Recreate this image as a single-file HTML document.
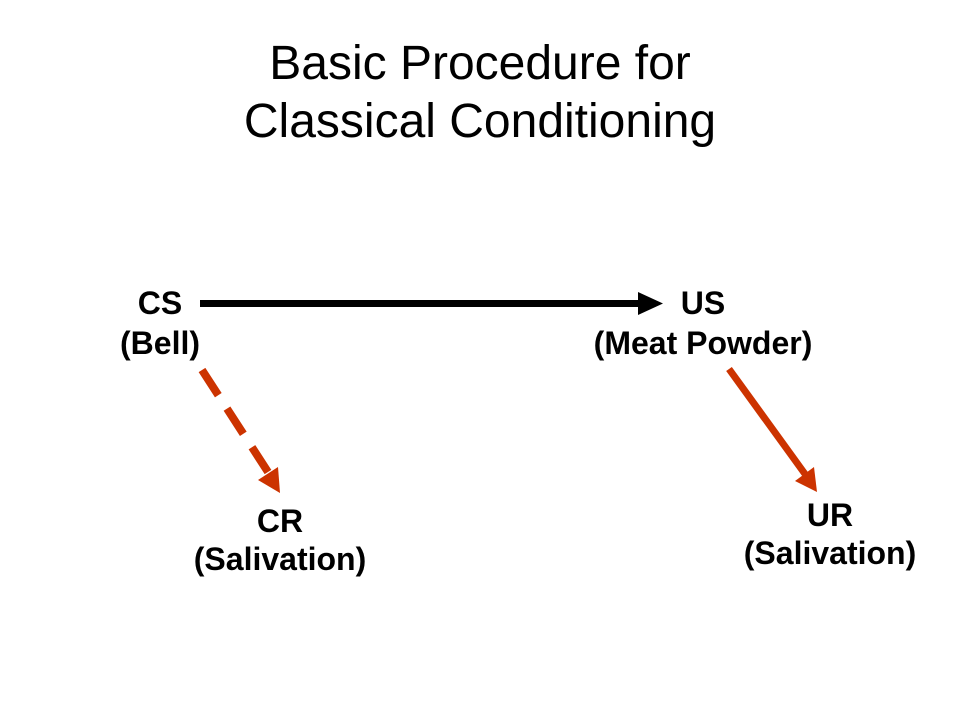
<!DOCTYPE html>
<html><head><meta charset="utf-8"><style>
html,body{margin:0;padding:0;background:#fff;width:960px;height:720px;overflow:hidden}
</style></head><body>
<svg width="960" height="720" viewBox="0 0 960 720" xmlns="http://www.w3.org/2000/svg">
<g font-family="Liberation Sans, Arial, sans-serif" text-anchor="middle">
<text x="480" y="79" font-size="48">Basic Procedure for</text>
<text x="480" y="137" font-size="48">Classical Conditioning</text>
<g font-weight="bold" font-size="32">
<text x="160" y="314">CS</text>
<text x="160" y="354">(Bell)</text>
<text x="703" y="314">US</text>
<text x="703" y="354">(Meat Powder)</text>
<text x="280" y="532">CR</text>
<text x="280" y="570">(Salivation)</text>
<text x="830" y="526">UR</text>
<text x="830" y="564">(Salivation)</text>
</g>
</g>
<line x1="200" y1="303.5" x2="642" y2="303.5" stroke="#000" stroke-width="7"/>
<polygon points="638,292 663,303.5 638,315" fill="#000"/>
<line x1="202" y1="370" x2="268" y2="472" stroke="#CC3300" stroke-width="8" stroke-dasharray="30,16"/>
<polygon points="258,480 280,493 278,467" fill="#CC3300"/>
<line x1="729" y1="369" x2="805" y2="474" stroke="#CC3300" stroke-width="7"/>
<polygon points="795,481 817,492 814,467" fill="#CC3300"/>
</svg>
</body></html>
